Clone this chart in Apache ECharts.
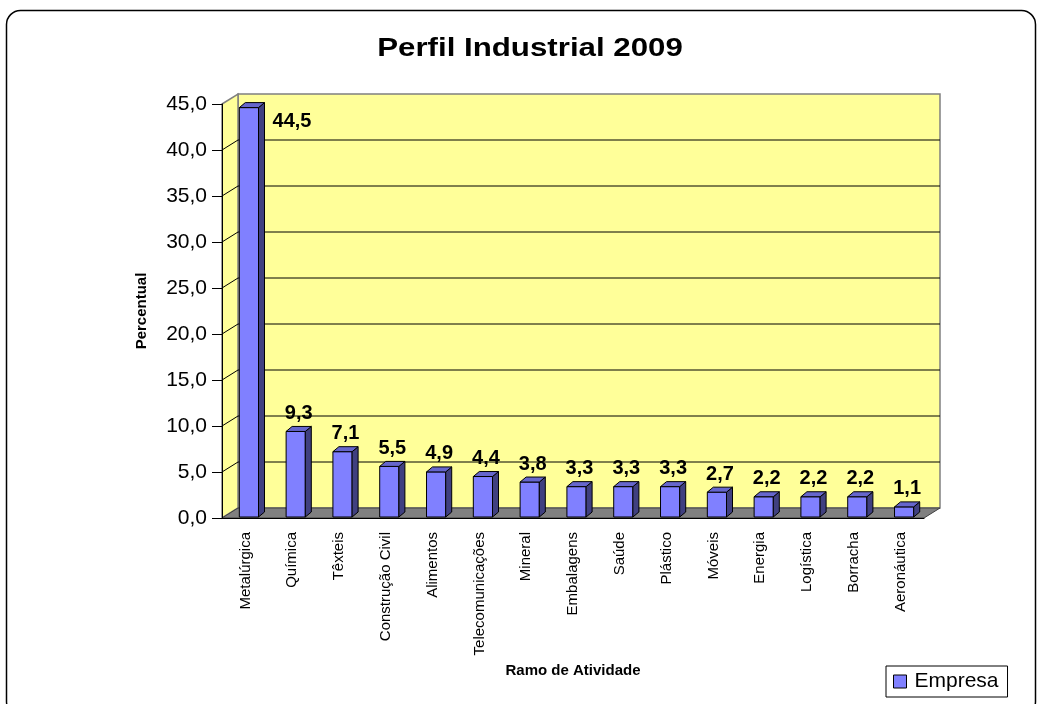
<!DOCTYPE html>
<html>
<head>
<meta charset="utf-8">
<script src="https://cdn.jsdelivr.net/npm/echarts@6/dist/echarts.min.js"></script>
<style>
  html, body { margin: 0; padding: 0; background: #fff; }
  #chart_con { width: 1042px; height: 704px; }
</style>
</head>
<body>
<div id="chart_con"></div>
<script>
const categories = ['Metalúrgica', 'Química', 'Têxteis', 'Construção Civil', 'Alimentos', 'Telecomunicações', 'Mineral', 'Embalagens', 'Saúde', 'Plástico', 'Móveis', 'Energia', 'Logística', 'Borracha', 'Aeronáutica'];
const empresa = [44.5, 9.3, 7.1, 5.5, 4.9, 4.4, 3.8, 3.3, 3.3, 3.3, 2.7, 2.2, 2.2, 2.2, 1.1];
const yTicks = [0, 5, 10, 15, 20, 25, 30, 35, 40, 45];

const FONT = '"Liberation Sans", Arial, sans-serif';
// depth of the 3d box (walls) and of the bars
const DX = 16, DY = -10;
const BDX = 6, BDY = -5;

const yMax = yTicks[yTicks.length - 1];

function fmt(v) {
  return v.toFixed(1).replace('.', ',');
}

function renderWalls(params, api) {
  const cs = params.coordSys;
  const x0 = cs.x, x1 = cs.x + cs.width;
  const yb = api.coord([0, 0])[1];
  const yt = api.coord([0, yMax])[1];
  const children = [];
  // back wall
  children.push({
    type: 'polygon',
    shape: { points: [[x0 + DX, yt + DY], [x1 + DX, yt + DY], [x1 + DX, yb + DY], [x0 + DX, yb + DY]] },
    style: { fill: '#FFFF99', stroke: '#808080', lineWidth: 1.5 }
  });
  // side wall
  children.push({
    type: 'polygon',
    shape: { points: [[x0, yt], [x0 + DX, yt + DY], [x0 + DX, yb + DY], [x0, yb]] },
    style: { fill: '#FFFF99', stroke: '#808080', lineWidth: 1.5 }
  });
  yTicks.forEach(function (v) {
    if (v === 0 || v === yMax) return;
    const y = api.coord([0, v])[1];
    children.push({
      type: 'polyline',
      shape: { points: [[x0, y], [x0 + DX, y + DY], [x1 + DX, y + DY]] },
      style: { fill: null, stroke: '#000', lineWidth: 1 }
    });
  });
  // floor
  children.push({
    type: 'polygon',
    shape: { points: [[x0, yb], [x1, yb], [x1 + DX, yb + DY], [x0 + DX, yb + DY]] },
    style: { fill: '#808080', stroke: '#404040', lineWidth: 1 }
  });
  return { type: 'group', children: children };
}

function renderBar(params, api) {
  const idx = api.value(0);
  const v = api.value(1);
  const c = api.coord([idx, v]);
  const base = api.coord([idx, 0]);
  const bw = api.size([1, 0])[0];
  const left = c[0] - bw / 2 + bw * 0.37;
  const w = bw * 0.41;
  const top = c[1] - 1;
  const bottom = base[1] - 1;
  const line = { stroke: '#000', lineWidth: 1 };

  let lx = left + (w + BDX) / 2;
  let ly = top - 18;
  let align = 'center';
  if (ly - 12 < params.coordSys.y) {
    // no room above: put the label beside the bar
    lx = left + w + BDX + 8;
    ly = top + 14;
    align = 'left';
  }

  return {
    type: 'group',
    children: [
      {
        type: 'polygon',
        shape: { points: [[left, top], [left + w, top], [left + w, bottom], [left, bottom]] },
        style: Object.assign({ fill: '#8080FF' }, line)
      },
      {
        type: 'polygon',
        shape: { points: [[left + w, top], [left + w + BDX, top + BDY], [left + w + BDX, bottom + BDY], [left + w, bottom]] },
        style: Object.assign({ fill: '#404080' }, line)
      },
      {
        type: 'polygon',
        shape: { points: [[left, top], [left + BDX, top + BDY], [left + w + BDX, top + BDY], [left + w, top]] },
        style: Object.assign({ fill: '#6666CC' }, line)
      },
      {
        type: 'text',
        x: lx,
        y: ly,
        style: {
          text: fmt(v),
          fill: '#000',
          font: 'bold 20px ' + FONT,
          align: align,
          verticalAlign: 'middle'
        }
      }
    ]
  };
}

const chart = echarts.init(document.getElementById('chart_con'));

const option = {
  backgroundColor: '#fff',
  animation: false,
  textStyle: { fontFamily: FONT },
  graphic: [
    {
      type: 'rect',
      shape: { x: 6.5, y: 10.5, width: 1029, height: 705, r: 14 },
      style: { fill: 'none', stroke: '#000', lineWidth: 1.5 },
      z: 0
    },
    {
      type: 'text',
      x: 530,
      y: 49,
      scaleX: 1.25,
      style: {
        text: 'Perfil Industrial 2009',
        font: 'bold 25px ' + FONT,
        fill: '#000',
        align: 'center',
        verticalAlign: 'middle'
      }
    }
  ],
  legend: {
    data: [{ name: 'Empresa', icon: 'rect', itemStyle: { color: '#8080FF', borderColor: '#000', borderWidth: 1 } }],
    left: 886,
    top: 666,
    itemWidth: 13,
    itemHeight: 13,
    padding: [5, 9, 5, 7],
    borderColor: '#000',
    borderWidth: 1,
    textStyle: { fontSize: 21, color: '#000', fontFamily: FONT, padding: [0, 0, 0, 3] }
  },
  grid: {
    left: 222,
    right: 118,
    top: 104,
    bottom: 186,
    containLabel: false
  },
  xAxis: {
    type: 'category',
    data: categories,
    z: 5,
    name: 'Ramo de Atividade',
    nameLocation: 'middle',
    nameGap: 143,
    nameTextStyle: { fontWeight: 'bold', fontSize: 15, color: '#000', fontFamily: FONT },
    axisLine: { lineStyle: { color: '#000', width: 1 } },
    axisTick: { length: 8, lineStyle: { color: '#000' } },
    axisLabel: { rotate: 90, fontSize: 15, color: '#000', margin: 14, interval: 0, fontFamily: FONT },
    splitLine: { show: false }
  },
  yAxis: {
    type: 'value',
    min: 0,
    max: yMax,
    interval: 5,
    z: 5,
    name: 'Percentual',
    nameLocation: 'middle',
    nameGap: 73,
    nameRotate: 90,
    nameTextStyle: { fontWeight: 'bold', fontSize: 15, color: '#000', fontFamily: FONT },
    axisLine: { show: true, lineStyle: { color: '#000', width: 1 } },
    axisTick: { show: true, length: 10, lineStyle: { color: '#000' } },
    axisLabel: { fontSize: 21, color: '#000', margin: 15, formatter: fmt, fontFamily: FONT },
    splitLine: { show: false }
  },
  series: [
    {
      name: 'walls',
      type: 'custom',
      renderItem: renderWalls,
      data: [[0, 0]],
      z: 1,
      silent: true
    },
    {
      name: 'Empresa',
      type: 'custom',
      renderItem: renderBar,
      itemStyle: { color: '#8080FF' },
      data: empresa.map(function (v, i) { return [i, v]; }),
      z: 3
    }
  ]
};

chart.setOption(option);
</script>
</body>
</html>
